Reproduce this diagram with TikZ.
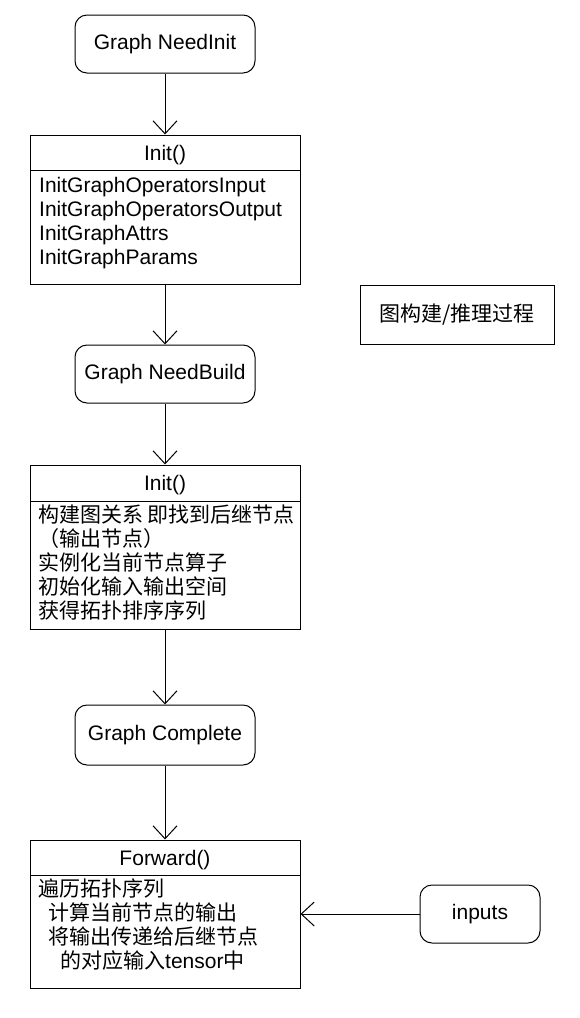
\documentclass[tikz,border=0pt]{standalone}
\usepackage{fontspec}
\setmainfont{Liberation Sans}
\newfontfamily\cjk{Noto Sans CJK SC}
\usetikzlibrary{arrows.meta}
\begin{document}
\begin{tikzpicture}[x=1pt,y=-1pt,
  every node/.style={font=\fontsize{21}{24}\selectfont},
  rbox/.style={draw,line width=1pt,rounded corners=12pt,minimum width=180pt,minimum height=58pt,inner sep=0pt},
  sbox/.style={draw,line width=1pt,minimum width=270pt,inner sep=0pt},
  lbl/.style={anchor=base west,inner sep=0pt},
  hdr/.style={anchor=base,inner sep=0pt},
  conn/.style={line width=1pt,-{Straight Barb[length=13pt,width=24pt,line width=1pt]}}]
\useasboundingbox (0,0) rectangle (580,1018);
\fill[white] (0,0) rectangle (580,1018);
% rounded state nodes
\node[rbox] (ni) at (165,44) {Graph NeedInit};
\node[rbox] (nb) at (165,374) {Graph NeedBuild};
\node[rbox, minimum height=60pt] (gc) at (165,735) {Graph Complete};
\node[rbox, minimum width=120pt] (inp) at (480,914) {inputs};
% label box
\node[draw,line width=1pt,minimum width=194pt,minimum height=59pt,inner sep=0pt] (lab) at (457,314.5) {\cjk 图构建/推理过程};
% Init box 1
\node[sbox,minimum height=149pt] (i1) at (165,209.5) {};
\draw[line width=1pt] (30,170) -- (300,170);
\node[hdr] (i1h) at (165,160) {Init()};
\node[lbl] (i1a) at (39,192) {InitGraphOperatorsInput};
\node[lbl] (i1b) at (39,216) {InitGraphOperatorsOutput};
\node[lbl] (i1c) at (39,240) {InitGraphAttrs};
\node[lbl] (i1d) at (39,264) {InitGraphParams};
% Init box 2
\node[sbox,minimum height=164pt] (i2) at (165,547) {};
\draw[line width=1pt] (30,501) -- (300,501);
\node[hdr] (i2h) at (165,490) {Init()};
\node[lbl] (i2a) at (38,522) {\cjk 构建图关系 即找到后继节点};
\node[lbl] (i2b) at (38,546) {\cjk （输出节点）};
\node[lbl] (i2c) at (38,570) {\cjk 实例化当前节点算子};
\node[lbl] (i2d) at (38,594) {\cjk 初始化输入输出空间};
\node[lbl] (i2e) at (38,618) {\cjk 获得拓扑排序序列};
% Forward box
\node[sbox,minimum height=148pt] (fw) at (165,914) {};
\draw[line width=1pt] (30,875) -- (300,875);
\node[hdr] (fwh) at (165,865) {Forward()};
\node[lbl] (fwa) at (38,896) {\cjk 遍历拓扑序列};
\node[lbl] (fwb) at (48,920) {\cjk 计算当前节点的输出};
\node[lbl] (fwc) at (48,944) {\cjk 将输出传递给后继节点};
\node[lbl] (fwd) at (60,968) {{\cjk 的对应输入}tensor{\cjk 中}};
% connectors
\draw[conn] (ni.south) -- (i1.north);
\draw[conn] (i1.south) -- (nb.north);
\draw[conn] (nb.south) -- (i2.north);
\draw[conn] (i2.south) -- (gc.north);
\draw[conn] (gc.south) -- (fw.north);
\draw[conn] (inp.west) -- (fw.east);
\end{tikzpicture}
\end{document}
